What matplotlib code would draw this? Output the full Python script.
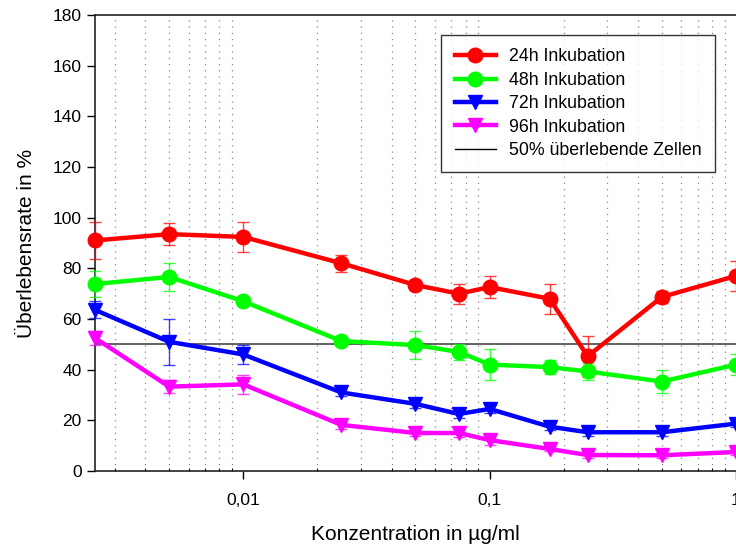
import matplotlib
matplotlib.use("Agg")
import matplotlib.pyplot as plt
from matplotlib.ticker import FixedLocator, FuncFormatter, LogLocator, NullFormatter

plt.rcParams['font.family'] = ['Liberation Sans', 'DejaVu Sans']

conc = [0.0025, 0.005, 0.01, 0.025, 0.05, 0.075, 0.1, 0.175, 0.25, 0.5, 1.0]

h24 = [91, 93.5, 92.4, 82, 73.4, 70, 72.6, 68, 45.3, 68.7, 77]
h24_err = [7.3, 4.3, 6, 3.3, 2, 4, 4.3, 6, 8, 2.4, 6]
h48 = [73.8, 76.6, 67, 51.3, 49.7, 47, 42, 41, 39.3, 35.3, 42]
h48_err = [5, 5.7, 1.2, 1.2, 5.5, 3, 6, 2.8, 3.3, 4.5, 4]
h72 = [63.6, 51, 46, 31, 26.5, 22.5, 24.5, 17.5, 15.3, 15.3, 18.7]
h72_err = [3.4, 9, 3.7, 1.5, 1.5, 1.5, 1.5, 1.5, 1.5, 1.5, 1.5]
h96 = [52.5, 33.3, 34.2, 18.2, 15, 15, 12.2, 8.7, 6.3, 6.2, 7.5]
h96_err = [2.8, 2.6, 3.8, 1.5, 1, 1.5, 2, 1, 1, 1, 1]

labels = ['24h Inkubation', '48h Inkubation', '72h Inkubation', '96h Inkubation']
colors = ['#ff0000', '#00ff00', '#0000ff', '#ff00ff']
markers = ['o', 'o', 'v', 'v']
threshold = 50
threshold_label = '50% überlebende Zellen'

fig = plt.figure(figsize=(7.36, 5.49), dpi=100)
ax = fig.add_axes([95/736, 1 - 471/549, 1 - 95/736, (471 - 15)/549])

series = [(h24, h24_err), (h48, h48_err), (h72, h72_err), (h96, h96_err)]
handles = []
for (vals, errs), lab, col, mk in zip(series, labels, colors, markers):
    ax.errorbar(conc, vals, yerr=errs, fmt='none', ecolor=col, elinewidth=1.0,
                capsize=4, capthick=1.0, alpha=0.75, zorder=3, clip_on=False)
    h, = ax.plot(conc, vals, color=col, lw=3.2, marker=mk, markersize=10.5,
                 label=lab, zorder=4, clip_on=False)
    handles.append(h)

ax.axhline(threshold, color='#555555', lw=1.3, zorder=2)
leg_line, = ax.plot([], [], color='black', lw=1, label=threshold_label)
handles.append(leg_line)

ax.set_xscale('log')
ax.set_xlim(0.0025, 1.0)
ax.set_ylim(0, 180)
ax.set_yticks(range(0, 181, 20))

ax.xaxis.set_major_locator(FixedLocator([0.01, 0.1, 1.0]))
ax.xaxis.set_major_formatter(FuncFormatter(lambda v, p: ('%g' % v).replace('.', ',')))
ax.xaxis.set_minor_locator(LogLocator(base=10, subs=range(2, 10)))
ax.xaxis.set_minor_formatter(NullFormatter())
ax.grid(True, which='minor', axis='x', color='#888888', linestyle=(0, (1, 4)), lw=0.9)

ax.tick_params(axis='both', which='major', direction='out', length=6, width=1,
               labelsize=12.5, colors='black')
ax.tick_params(axis='x', which='major', pad=10)
ax.tick_params(axis='x', which='minor', direction='in', length=2, width=0.8)

for s in ['left', 'bottom', 'top']:
    ax.spines[s].set_linewidth(1.2)
    ax.spines[s].set_color('#222222')
ax.spines['right'].set_visible(False)

ax.set_ylabel('Überlebensrate in %', fontsize=15, labelpad=12)
ax.set_xlabel('Konzentration in µg/ml', fontsize=15, labelpad=12)

leg = ax.legend(handles=handles, loc='upper right',
                bbox_to_anchor=((715 - 95) / (736 - 95), 1 - 20 / 456),
                bbox_transform=ax.transAxes, borderaxespad=0,
                fontsize=12.8, frameon=True, fancybox=False,
                edgecolor='black', handlelength=2.3, labelspacing=0.36, borderpad=0.75,
                handletextpad=0.75)
leg.get_frame().set_linewidth(1.0)

fig.savefig('out.png', dpi=100)
